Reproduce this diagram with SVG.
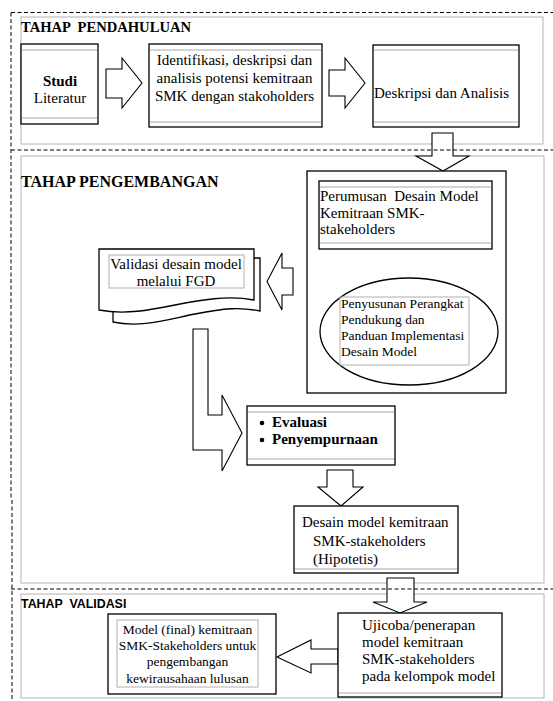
<svg xmlns="http://www.w3.org/2000/svg" width="553" height="701" viewBox="0 0 553 701">
<style>
.sec{fill:none;stroke:#b4b4b4;stroke-width:1}
.dash{fill:none;stroke:#000;stroke-width:1;stroke-dasharray:4 2.5}
.box{fill:#fff;stroke:#000;stroke-width:1.3}
.band{stroke:#a8a8a8;stroke-width:1;fill:none}
.gbox{fill:none;stroke:#b0b0b0;stroke-width:1}
.arr{fill:#fff;stroke:#000;stroke-width:1.1;stroke-linejoin:miter}
.t{font-family:"Liberation Serif","Times New Roman",serif;font-size:15px;fill:#000}
.s{font-size:13.5px}
.ttl{font-family:"Liberation Serif","Times New Roman",serif;font-weight:bold;fill:#000}
</style>
<rect width="553" height="701" fill="#fff"/>
<g id="sections">
<rect class="sec" x="21" y="17" width="522" height="127"/>
<rect class="sec" x="21" y="156" width="523" height="427"/>
<rect class="sec" x="21" y="594" width="523" height="104"/>
<text class="ttl" x="21" y="32" font-size="14.6" xml:space="preserve">TAHAP  PENDAHULUAN</text>
<text class="ttl" x="21" y="187" font-size="16">TAHAP PENGEMBANGAN</text>
<text x="21" y="608" font-family="'Liberation Sans',Arial,sans-serif" font-weight="bold" font-size="12.4" xml:space="preserve">TAHAP  VALIDASI</text>
</g>
<g id="connectors">
<polygon class="arr" points="106,69 122,69 122,58 142,83 122,108 122,98 106,98"/>
<polygon class="arr" points="329,70 345,70 345,58 365,83 345,108 345,96 329,96"/>
<polygon class="arr" points="432,133 453,133 453,156 469,156 443,171 416,156 432,156"/>
<polygon class="arr" points="394,253 422,253 422,266 430,266 408,277 385,266 394,266"/>
<polygon class="arr" points="293,268 293,295 282,295 282,310 267,281.5 282,253 282,268"/>
<polygon class="arr" points="193,329 208,329 208,415 222,415 222,395 242,433 222,471 222,450 193,450"/>
<polygon class="arr" points="327,470 353,470 353,487 363,487 341,506 318,487 327,487"/>
<polygon class="arr" points="387,578 414,578 414,602 427,602 400,613 373,602 387,602"/>
<polygon class="arr" points="338,649 311,649 311,640 277,657 311,673 311,664 338,664"/>
</g>
<g id="studi">
<rect class="box" x="21" y="44" width="77" height="80"/>
<line class="band" x1="22" y1="50" x2="97" y2="50"/>
<line class="band" x1="22" y1="118" x2="97" y2="118"/>
<text class="t" x="60" y="86" text-anchor="middle" font-size="13" font-weight="bold">Studi</text>
<text class="t" x="60" y="103" text-anchor="middle">Literatur</text>
</g>
<g id="identifikasi">
<rect class="box" x="149" y="44" width="173" height="83"/>
<line class="band" x1="150" y1="50" x2="321" y2="50"/>
<line class="band" x1="150" y1="122" x2="321" y2="122"/>
<text class="t" x="234.5" y="65" text-anchor="middle">Identifikasi, deskripsi dan</text>
<text class="t" x="234.5" y="83" text-anchor="middle">analisis potensi kemitraan</text>
<text class="t" x="234.5" y="101" text-anchor="middle">SMK dengan stakoholders</text>
</g>
<g id="deskripsi">
<rect class="box" x="373" y="45" width="146" height="82"/>
<line class="band" x1="374" y1="50" x2="518" y2="50"/>
<line class="band" x1="374" y1="122" x2="518" y2="122"/>
<text class="t" x="374" y="98">Deskripsi dan Analisis</text>
</g>
<g id="perumusan-group">
<rect class="box" x="307" y="171" width="199" height="222"/>
</g>
<g id="perumusan">
<rect class="box" x="319" y="181" width="173" height="68"/>
<line class="band" x1="320" y1="187" x2="491" y2="187"/>
<line class="band" x1="320" y1="243" x2="491" y2="243"/>
<text class="t" x="320" y="201" xml:space="preserve">Perumusan  Desain Model</text>
<text class="t" x="320" y="218">Kemitraan SMK-</text>
<text class="t" x="320" y="234">stakeholders</text>
</g>
<g id="penyusunan">
<ellipse class="box" cx="409" cy="331.5" rx="89" ry="53.5"/>
<rect class="gbox" x="340" y="297" width="129" height="68"/>
<text class="t s" x="341" y="308">Penyusunan Perangkat</text>
<text class="t s" x="341" y="324">Pendukung dan</text>
<text class="t s" x="341" y="340">Panduan Implementasi</text>
<text class="t s" x="341" y="356">Desain Model</text>
</g>
<g id="validasi">
<path class="box" d="M113,312 V322 C140,328 165,320 195,314 S240,307 260,311 V258 H254"/>
<path class="box" d="M99,249 H254 V300 C228,295 200,300 175,305 S125,315 99,310 Z"/>
<rect class="gbox" x="109" y="255" width="135" height="33"/>
<text class="t" x="176" y="269" text-anchor="middle">Validasi desain model</text>
<text class="t" x="176" y="286" text-anchor="middle">melalui FGD</text>
</g>
<g id="evaluasi">
<rect class="box" x="247" y="406" width="148" height="59"/>
<line class="band" x1="248" y1="412" x2="394" y2="412"/>
<line class="band" x1="248" y1="459" x2="394" y2="459"/>
<circle cx="262" cy="423" r="2.3" fill="#000"/>
<circle cx="262" cy="440" r="2.3" fill="#000"/>
<text class="t" x="272" y="427" font-weight="bold" font-size="14.3">Evaluasi</text>
<text class="t" x="272" y="444" font-weight="bold" font-size="14.3">Penyempurnaan</text>
</g>
<g id="desain-hipotetis">
<rect class="box" x="294" y="506" width="164" height="67"/>
<line class="band" x1="295" y1="569" x2="457" y2="569"/>
<text class="t" x="302" y="527">Desain model kemitraan</text>
<text class="t" x="313" y="546">SMK-stakeholders</text>
<text class="t" x="313" y="564">(Hipotetis)</text>
</g>
<g id="ujicoba">
<rect class="box" x="338" y="613" width="164" height="84"/>
<line class="band" x1="339" y1="693" x2="501" y2="693"/>
<text class="t" x="362" y="630">Ujicoba/penerapan</text>
<text class="t" x="362" y="647">model kemitraan</text>
<text class="t" x="362" y="664">SMK-stakeholders</text>
<text class="t" x="362" y="681">pada kelompok model</text>
</g>
<g id="model-final">
<rect class="box" x="108" y="614" width="168" height="80"/>
<rect class="gbox" x="117" y="620" width="141" height="67"/>
<text class="t s" x="187.5" y="634" text-anchor="middle">Model (final) kemitraan</text>
<text class="t s" x="187.5" y="650" text-anchor="middle">SMK-Stakeholders untuk</text>
<text class="t s" x="187.5" y="666" text-anchor="middle">pengembangan</text>
<text class="t s" x="187.5" y="683" text-anchor="middle">kewirausahaan lulusan</text>
</g>
<g id="dashed-frame">
<line class="dash" x1="11" y1="12.5" x2="553" y2="12.5"/>
<line class="dash" x1="11" y1="150" x2="553" y2="150"/>
<line class="dash" x1="11" y1="589" x2="553" y2="589"/>
<line class="dash" x1="11" y1="12.5" x2="11" y2="500"/>
<line class="dash" x1="12" y1="500" x2="12" y2="701"/>
</g>
</svg>
